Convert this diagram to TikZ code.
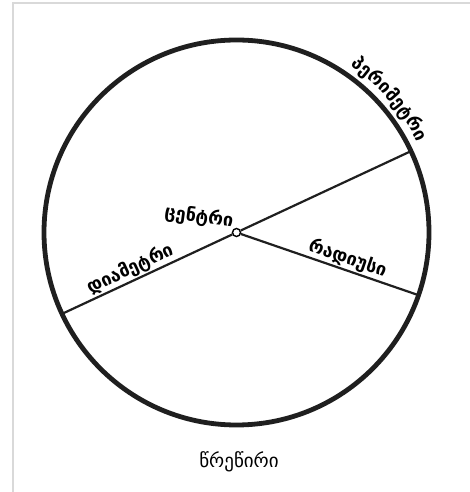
\documentclass[tikz,border=0pt]{standalone}
\usepackage{fontspec}
\setmainfont{DejaVu Sans}
\usetikzlibrary{decorations.text}

\begin{document}
\begin{tikzpicture}[x=1pt,y=1pt,
    rim/.style={line width=4.8pt,draw=black!88},
    chord/.style={line width=2.2pt,draw=black!88},
    lbl/.style={font=\bfseries\fontsize{18}{18}\selectfont,inner sep=1pt}]
  \useasboundingbox (0,0) rectangle (470,492);
  % frame
  \draw[black!15,line width=1.5pt] (13,0) -- (13,489) -- (470,489);
  \coordinate (c) at (236.5,259.5);
  \draw[rim] (c) circle (192.5);
  \path (c) +(205:192.5) coordinate (dl) +(25:192.5) coordinate (dr)
    +(-19:192.5) coordinate (rd);
  \node[circle,draw,line width=1.4pt,fill=white,inner sep=0pt,minimum size=8pt] (ctr) at (c) {};
  \draw[chord] (dl) -- node[lbl,pos=0.43,above,sloped] (dia) {დიამეტრი} (ctr) -- (dr);
  \draw[chord] (ctr) -- node[lbl,pos=0.58,above,sloped] (rad) {რადიუსი} (rd);
  \node[lbl,rotate=-8] (cen) at (199,275) {ცენტრი};
  % perimeter along the rim
  \path[decorate,decoration={text along path,text align=center,
      text={|\bfseries\fontsize{18}{18}\selectfont|პერიმეტრი}}]
    (c) ++(63:202) arc[start angle=63,end angle=19,radius=202];
  \node[font=\fontsize{19}{19}\selectfont] (name) at (239,30) {წრეწირი};
\end{tikzpicture}
\end{document}
